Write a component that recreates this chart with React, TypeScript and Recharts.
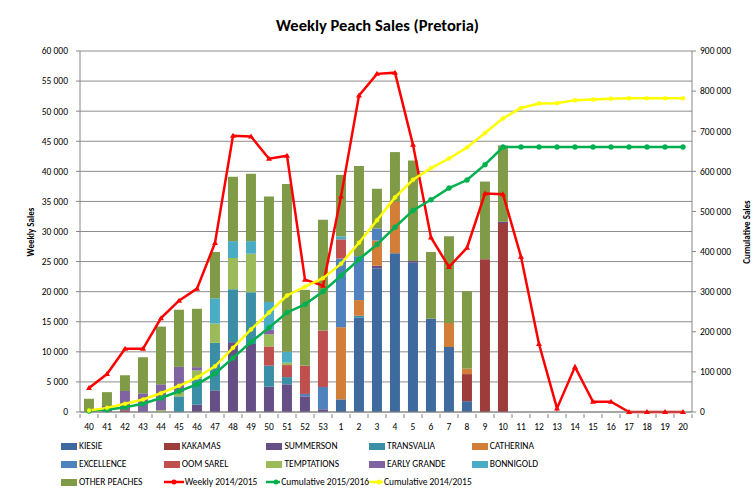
import React from 'react';
import {
    ComposedChart,
    Bar,
    Line,
    XAxis,
    YAxis,
    CartesianGrid
} from 'recharts';

// week numbers, season runs from week 40 to week 20
const WEEKS = [
    '40', '41', '42', '43', '44', '45', '46', '47', '48', '49', '50', '51', '52', '53',
    '1', '2', '3', '4', '5', '6', '7', '8', '9', '10', '11', '12', '13', '14', '15', '16', '17', '18', '19', '20'
];

// weekly sales by variety, 2015/2016
const KIESIE = [0, 0, 0, 0, 0, 0, 0, 0, 0, 0, 0, 0, 0, 0, 2100, 15700, 23900, 26400, 24800, 15500, 10800, 1800, 0, 0, 0, 0, 0, 0, 0, 0, 0, 0, 0, 0];
const KAKAMAS = [0, 0, 300, 0, 0, 0, 0, 0, 0, 0, 0, 0, 0, 0, 0, 0, 0, 0, 0, 0, 0, 4500, 25400, 31400, 0, 0, 0, 0, 0, 0, 0, 0, 0, 0];
const SUMMERSON = [0, 0, 0, 0, 0, 0, 1200, 3600, 11600, 11300, 4200, 4600, 2600, 450, 0, 0, 400, 0, 300, 0, 0, 0, 0, 200, 0, 0, 0, 0, 0, 0, 0, 0, 0, 0];
const TRANSVALIA = [0, 0, 0, 0, 0, 2600, 4300, 7900, 8800, 8600, 3500, 1200, 0, 0, 0, 300, 0, 0, 0, 0, 0, 0, 0, 0, 0, 0, 0, 0, 0, 0, 0, 0, 0, 0];
const CATHERINA = [0, 0, 0, 0, 0, 0, 0, 0, 0, 0, 0, 0, 0, 0, 12000, 2600, 4200, 8500, 0, 0, 4000, 900, 0, 0, 0, 0, 0, 0, 0, 0, 0, 0, 0, 0];
const EXCELLENCE = [0, 0, 0, 0, 0, 0, 0, 0, 0, 0, 0, 0, 400, 3700, 11400, 7300, 2000, 0, 0, 0, 0, 0, 0, 0, 0, 0, 0, 0, 0, 0, 0, 0, 0, 0];
const OOM_SAREL = [0, 0, 0, 0, 0, 0, 0, 0, 0, 0, 3200, 2000, 4700, 9400, 3200, 0, 0, 0, 0, 0, 0, 0, 0, 0, 0, 0, 0, 0, 0, 0, 0, 0, 0, 0];
const TEMPTATIONS = [0, 0, 0, 0, 300, 700, 1400, 3200, 5200, 6400, 2000, 400, 0, 0, 0, 0, 0, 0, 0, 0, 0, 0, 0, 0, 0, 0, 0, 0, 0, 0, 0, 0, 0, 0];
const EARLY_GRANDE = [0, 1000, 3200, 3100, 4300, 4200, 550, 0, 0, 0, 800, 0, 0, 0, 0, 0, 0, 0, 0, 0, 0, 0, 0, 0, 0, 0, 0, 0, 0, 0, 0, 0, 0, 0];
const BONNIGOLD = [0, 0, 0, 0, 0, 0, 0, 4200, 2800, 2100, 4600, 1800, 0, 0, 500, 0, 0, 0, 0, 0, 0, 0, 0, 0, 0, 0, 0, 0, 0, 0, 0, 0, 0, 0];
const OTHER_PEACHES = [2200, 2300, 2600, 6000, 9600, 9500, 9700, 7700, 10700, 11200, 17500, 27900, 12600, 18400, 10200, 15000, 6600, 8300, 16700, 11100, 14400, 12900, 12900, 12700, 0, 0, 0, 0, 0, 0, 0, 0, 0, 0];

// lines
const WEEKLY_1415 = [4000, 6300, 10500, 10500, 15600, 18500, 20500, 28100, 45900, 45800, 42100, 42600, 22000, 21000, 35800, 52600, 56200, 56400, 44400, 29000, 24100, 27300, 36300, 36200, 25800, 11300, 600, 7500, 1700, 1700, 0, 0, 0, 0];
const CUM_1516 = [2200, 5500, 11600, 20700, 34900, 51800, 69000, 95700, 134800, 174500, 210300, 248200, 268400, 300300, 339700, 380600, 417600, 460800, 502500, 529100, 558200, 578300, 616600, 660700, 660700, 660700, 660700, 660700, 660700, 660700, 660700, 660700, 660700, 660700];
const CUM_1415 = [4000, 10300, 20700, 31200, 46800, 65400, 85900, 114000, 160000, 205800, 248000, 290500, 312500, 333500, 369300, 422000, 478000, 535000, 579000, 608000, 632000, 659500, 695700, 732000, 758000, 769000, 770000, 777500, 779000, 781000, 782000, 782000, 782000, 782000];

const LEFT_TICKS = [0, 5000, 10000, 15000, 20000, 25000, 30000, 35000, 40000, 45000, 50000, 55000, 60000];
const RIGHT_TICKS = [0, 100000, 200000, 300000, 400000, 500000, 600000, 700000, 800000, 900000];

const VARIETIES = [
    { key: 'kiesie', name: 'KIESIE', color: '#3f6a9e', values: KIESIE },
    { key: 'kakamas', name: 'KAKAMAS', color: '#9c3d3b', values: KAKAMAS },
    { key: 'summerson', name: 'SUMMERSON', color: '#654f86', values: SUMMERSON },
    { key: 'transvalia', name: 'TRANSVALIA', color: '#3a8fa6', values: TRANSVALIA },
    { key: 'catherina', name: 'CATHERINA', color: '#d27d38', values: CATHERINA },
    { key: 'excellence', name: 'EXCELLENCE', color: '#4f81bd', values: EXCELLENCE },
    { key: 'oomsarel', name: 'OOM SAREL', color: '#c0504d', values: OOM_SAREL },
    { key: 'temptations', name: 'TEMPTATIONS', color: '#9bbb59', values: TEMPTATIONS },
    { key: 'earlygrande', name: 'EARLY GRANDE', color: '#8064a2', values: EARLY_GRANDE },
    { key: 'bonnigold', name: 'BONNIGOLD', color: '#4bacc6', values: BONNIGOLD },
    { key: 'other', name: 'OTHER PEACHES', color: '#7f9b48', values: OTHER_PEACHES }
];

const LINES = [
    { key: 'weekly1415', name: 'Weekly 2014/2015', color: '#ff0000', axis: 'left', values: WEEKLY_1415 },
    { key: 'cum1516', name: 'Cumulative 2015/2016', color: '#00b050', axis: 'right', values: CUM_1516 },
    { key: 'cum1415', name: 'Cumulative 2014/2015', color: '#ffff00', axis: 'right', values: CUM_1415 }
];

const data = WEEKS.map((week, i) => {
    const row: Record<string, string | number> = { week };
    VARIETIES.forEach(v => { row[v.key] = v.values[i]; });
    LINES.forEach(l => { row[l.key] = l.values[i]; });
    return row;
});

const FONT = 'Carlito, Lato, "Open Sans", sans-serif';

const fmt = (v: number) => String(v).replace(/\B(?=(\d{3})+(?!\d))/g, ' ');

// Excel-style category ticks: marks sit between the weeks
const WeekTick = (props: any) => {
    const { x, y, payload, index } = props;
    const half = 9;
    return (
        <g>
            <line x1={x - half} x2={x - half} y1={y - 6} y2={y - 2} stroke="#868686" />
            {index === WEEKS.length - 1 && (
                <line x1={x + half} x2={x + half} y1={y - 6} y2={y - 2} stroke="#868686" />
            )}
            <text x={x} y={y + 10} textAnchor="middle" fontSize={9.5} fill="#000" fontFamily={FONT}>
                {payload.value}
            </text>
        </g>
    );
};

const triangleDot = (props: any) => {
    const { cx, cy, index } = props;
    if (cx == null || cy == null) return <g key={`t${index}`} />;
    return (
        <path
            key={`t${index}`}
            d={`M${cx},${cy - 3}L${cx + 3},${cy + 2}L${cx - 3},${cy + 2}Z`}
            fill="#ff0000"
        />
    );
};

const LegendSwatch = ({ item, line }: { item: { color: string }; line: boolean }) => {
    if (!line) {
        return <span style={{ display: 'inline-block', width: 16, height: 7, background: item.color, marginRight: 2 }} />;
    }
    return (
        <svg width={20} height={8} style={{ marginRight: 1 }}>
            <line x1={0} x2={20} y1={4} y2={4} stroke={item.color} strokeWidth={2.5} />
            <circle cx={10} cy={4} r={2.5} fill={item.color} />
        </svg>
    );
};

export default function App() {
    const legendItems = [
        ...VARIETIES.map(v => ({ ...v, line: false })),
        ...LINES.map(l => ({ ...l, line: true }))
    ];

    return (
        <div style={{ position: 'absolute', left: 0, top: 0, width: 755, height: 496, background: '#fff', fontFamily: FONT }}>
            <div style={{ position: 'absolute', left: 0, width: 755, top: 15, textAlign: 'center', fontSize: 16.5, fontWeight: 'bold', color: '#000' }}>
                Weekly Peach Sales (Pretoria)
            </div>
            <div style={{ position: 'absolute', left: 30, top: 232, fontSize: 9, fontWeight: 'bold', transform: 'translate(-50%, -50%) rotate(-90deg)', whiteSpace: 'nowrap' }}>
                Weekly Sales
            </div>
            <div style={{ position: 'absolute', left: 746, top: 232, fontSize: 9, fontWeight: 'bold', transform: 'translate(-50%, -50%) rotate(-90deg)', whiteSpace: 'nowrap' }}>
                Cumulative Sales
            </div>

            <ComposedChart
                width={755}
                height={496}
                data={data}
                margin={{ top: 51, right: 0, bottom: 59, left: 0 }}
                barCategoryGap="22%"
                style={{ position: 'absolute', left: 0, top: 0 }}
            >
                <CartesianGrid yAxisId="left" vertical={false} stroke="#8c8c8c" />
                <XAxis
                    dataKey="week"
                    interval={0}
                    tickLine={false}
                    tickSize={6}
                    tickMargin={2}
                    stroke="#868686"
                    height={25}
                    tick={<WeekTick />}
                />
                <YAxis
                    yAxisId="left"
                    width={80}
                    domain={[0, 60000]}
                    ticks={LEFT_TICKS}
                    interval={0}
                    tickFormatter={fmt}
                    stroke="#868686"
                    tickSize={4}
                    tickMargin={8}
                    tick={{ fill: '#000', fontSize: 9.5, fontFamily: FONT }}
                />
                <YAxis
                    yAxisId="right"
                    orientation="right"
                    width={63}
                    domain={[0, 900000]}
                    ticks={RIGHT_TICKS}
                    interval={0}
                    tickFormatter={fmt}
                    stroke="#868686"
                    tickSize={4}
                    tickMargin={4}
                    tick={{ fill: '#000', fontSize: 9.5, fontFamily: FONT, textAnchor: 'start' }}
                />

                {VARIETIES.map(v => (
                    <Bar
                        key={v.key}
                        yAxisId="left"
                        dataKey={v.key}
                        name={v.name}
                        stackId="varieties"
                        fill={v.color}
                        isAnimationActive={false}
                    />
                ))}

                <Line
                    yAxisId="left"
                    dataKey="weekly1415"
                    name="Weekly 2014/2015"
                    stroke="#ff0000"
                    strokeWidth={2.5}
                    dot={triangleDot}
                    activeDot={false}
                    isAnimationActive={false}
                />
                <Line
                    yAxisId="right"
                    dataKey="cum1516"
                    name="Cumulative 2015/2016"
                    stroke="#00b050"
                    strokeWidth={2.5}
                    dot={{ r: 2.5, fill: '#00b050', stroke: '#00b050', strokeWidth: 0.5 }}
                    activeDot={false}
                    isAnimationActive={false}
                />
                <Line
                    yAxisId="right"
                    dataKey="cum1415"
                    name="Cumulative 2014/2015"
                    stroke="#ffff00"
                    strokeWidth={2.5}
                    dot={{ r: 2, fill: '#ffff00', stroke: '#ffff00', strokeWidth: 0.5 }}
                    activeDot={false}
                    isAnimationActive={false}
                />
            </ComposedChart>

            {/* legend, 5 columns x 3 rows as in the Excel original */}
            <div
                style={{
                    position: 'absolute',
                    left: 61,
                    top: 437,
                    width: 520,
                    display: 'grid',
                    gridTemplateColumns: 'repeat(5, 102.7px)',
                    gridAutoRows: '18px',
                    fontSize: 9.5,
                    color: '#000'
                }}
            >
                {legendItems.map(item => (
                    <div key={item.key} style={{ display: 'flex', alignItems: 'center', whiteSpace: 'nowrap' }}>
                        <LegendSwatch item={item} line={item.line} />
                        <span>{item.name}</span>
                    </div>
                ))}
            </div>
        </div>
    );
}
